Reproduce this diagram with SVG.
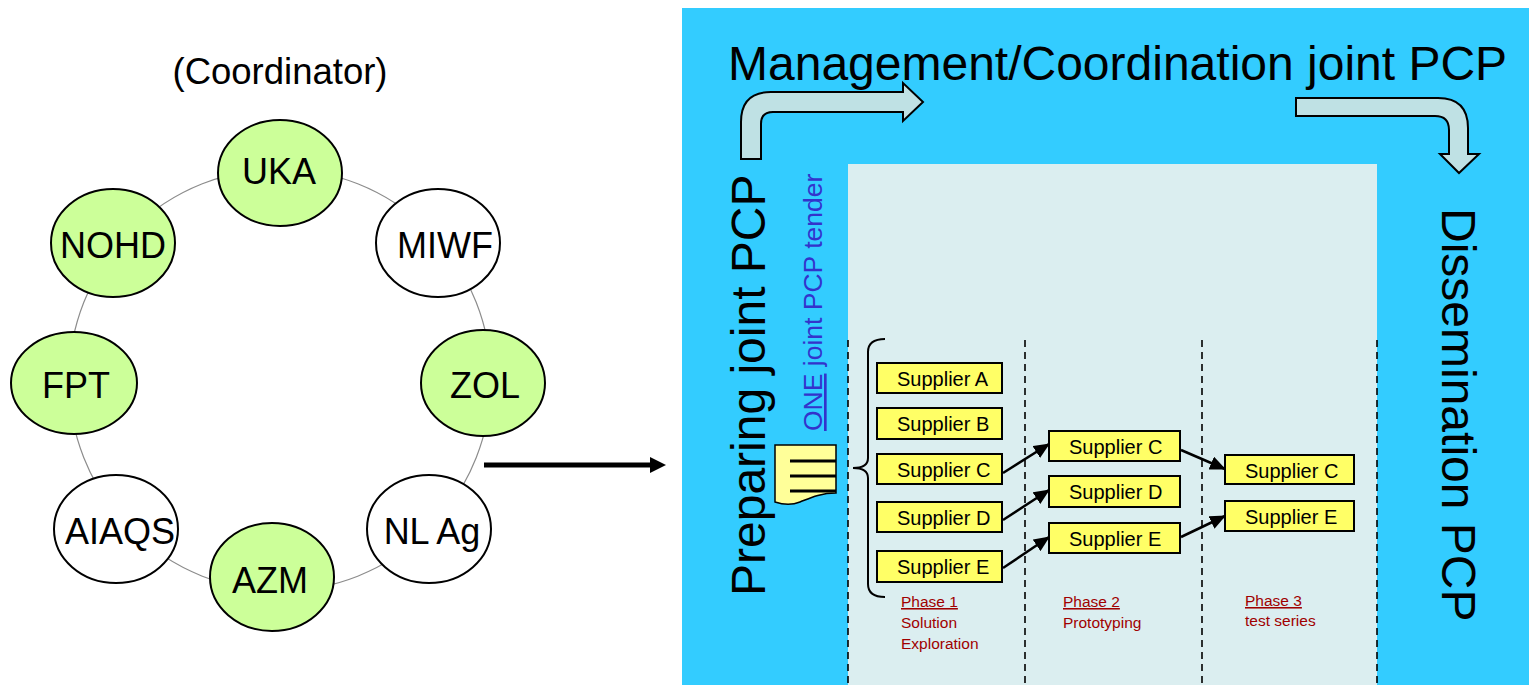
<svg xmlns="http://www.w3.org/2000/svg" width="1529" height="685" viewBox="0 0 1529 685">
<style>
text{font-family:"Liberation Sans",Arial,sans-serif;fill:#000}
.ell{stroke:#000;stroke-width:2}
.g{fill:#CCFF99}
.w{fill:#fff}
.lbl{font-size:36px;text-anchor:middle}
.sup rect{fill:#FFFF66;stroke:#000;stroke-width:2}
.sup text{font-size:20px}
.dash{stroke:#000;stroke-width:1.6;stroke-dasharray:7,5;fill:none}
.ph{font-size:15.5px;fill:#A00000}
.ph text{fill:#A00000}
.bend{fill:#BFE1E4;stroke:#000;stroke-width:2}
.conn{stroke:#000;stroke-width:2.5;fill:none;marker-end:url(#ah)}
</style>
<defs>
<marker id="ah" markerUnits="userSpaceOnUse" markerWidth="16" markerHeight="14" refX="15" refY="7" orient="auto">
<path d="M0,0 L16,7 L0,14 Z" fill="#000"/>
</marker>
</defs>
<rect width="1529" height="685" fill="#fff"/>

<!-- left: consortium ring -->
<text x="280" y="84" font-size="36.5" text-anchor="middle">(Coordinator)</text>
<circle cx="280" cy="380" r="211" fill="none" stroke="#8c8c8c" stroke-width="1.2"/>
<g id="n-uka"><ellipse class="ell g" cx="280" cy="173" rx="62" ry="53"/><text class="lbl" x="279" y="184">UKA</text></g>
<g id="n-nohd"><ellipse class="ell g" cx="113" cy="243" rx="62" ry="54"/><text class="lbl" x="113" y="258">NOHD</text></g>
<g id="n-miwf"><ellipse class="ell w" cx="438" cy="243" rx="62" ry="54"/><text class="lbl" x="445" y="258">MIWF</text></g>
<g id="n-fpt"><ellipse class="ell g" cx="74" cy="383" rx="63" ry="51"/><text class="lbl" x="76" y="398">FPT</text></g>
<g id="n-zol"><ellipse class="ell g" cx="483" cy="383" rx="62" ry="53"/><text class="lbl" x="485" y="398">ZOL</text></g>
<g id="n-aiaqs"><ellipse class="ell w" cx="116" cy="529" rx="62" ry="54"/><text class="lbl" x="120" y="544">AIAQS</text></g>
<g id="n-nlag"><ellipse class="ell w" cx="429" cy="529" rx="62" ry="54"/><text class="lbl" x="432" y="544">NL Ag</text></g>
<g id="n-azm"><ellipse class="ell g" cx="272" cy="577" rx="62" ry="54"/><text class="lbl" x="270" y="593">AZM</text></g>

<!-- right panel -->
<rect x="682" y="8" width="847" height="677" fill="#33CCFF"/>
<rect x="848" y="164" width="529" height="521" fill="#DBEEF0"/>
<text x="728" y="80" font-size="48">Management/Coordination joint PCP</text>
<g id="bend-left"><path class="bend" d="M741,159 L741,122 Q741,92 771,92 L903,92 L903,83 L923,102 L903,121 L903,112 L773,112 Q761,112 761,124 L761,159 Z"/></g>
<g id="bend-right"><path class="bend" d="M1296,98 L1438,98 Q1468,98 1468,128 L1468,154 L1479,154 L1459,173 L1440,154 L1449,154 L1449,130 Q1449,116 1435,116 L1296,116 Z"/></g>
<text transform="translate(765,596) rotate(-90)" font-size="48">Preparing joint PCP</text>
<text transform="translate(1442,208) rotate(90)" font-size="48">Dissemination PCP</text>
<text transform="translate(822,431) rotate(-90)" font-size="26.5" style="fill:#3333CC"><tspan text-decoration="underline" style="fill:#3333CC">ONE</tspan> joint PCP tender</text>

<g id="tender-doc">
<path d="M775,445 L836,445 L836,493 C820,493 810,498 800,502 C790,506 781,504 775,502 Z" fill="#FFFF99" stroke="#000" stroke-width="1.5"/>
<path d="M790,461 H836 M790,476 H836 M790,491 H836" stroke="#000" stroke-width="3"/>
</g>

<!-- phase separators -->
<path class="dash" d="M848,340 V685 M1025,340 V685 M1202,340 V685 M1377,340 V685"/>
<path d="M885,339 Q868,339 868,352 L868,458 Q868,468 853,468 Q868,468 868,478 L868,584 Q868,597 885,597" fill="none" stroke="#000" stroke-width="2"/>

<!-- suppliers -->
<g id="p1-a" class="sup"><rect x="877" y="363" width="125" height="30"/><text x="897" y="386">Supplier A</text></g>
<g id="p1-b" class="sup"><rect x="877" y="408" width="125" height="31"/><text x="897" y="431">Supplier B</text></g>
<g id="p1-c" class="sup"><rect x="877" y="454" width="125" height="30"/><text x="897" y="477">Supplier C</text></g>
<g id="p1-d" class="sup"><rect x="877" y="502" width="125" height="30"/><text x="897" y="525">Supplier D</text></g>
<g id="p1-e" class="sup"><rect x="877" y="551" width="125" height="31"/><text x="897" y="574">Supplier E</text></g>
<g id="p2-c" class="sup"><rect x="1049" y="431" width="131" height="30"/><text x="1069" y="454">Supplier C</text></g>
<g id="p2-d" class="sup"><rect x="1049" y="476" width="131" height="31"/><text x="1069" y="499">Supplier D</text></g>
<g id="p2-e" class="sup"><rect x="1049" y="523" width="131" height="30"/><text x="1069" y="546">Supplier E</text></g>
<g id="p3-c" class="sup"><rect x="1225" y="455" width="129" height="29"/><text x="1245" y="478">Supplier C</text></g>
<g id="p3-e" class="sup"><rect x="1225" y="501" width="129" height="30"/><text x="1245" y="524">Supplier E</text></g>

<g id="connectors">
<path d="M484,465 L650,465" stroke="#000" stroke-width="5"/>
<path d="M650,457 L666,465 L650,473 Z" fill="#000"/>
<path class="conn" d="M1003,473 L1049,444"/>
<path class="conn" d="M1003,520 L1049,490"/>
<path class="conn" d="M1003,568 L1049,537"/>
<path class="conn" d="M1181,450 L1225,469"/>
<path class="conn" d="M1181,537 L1225,516"/>
</g>

<!-- phase labels -->
<g class="ph">
<text x="901" y="607" text-decoration="underline">Phase 1</text>
<text x="901" y="628">Solution</text>
<text x="901" y="649">Exploration</text>
<text x="1063" y="607" text-decoration="underline">Phase 2</text>
<text x="1063" y="628">Prototyping</text>
<text x="1245" y="606" text-decoration="underline">Phase 3</text>
<text x="1245" y="626">test series</text>
</g>
</svg>
